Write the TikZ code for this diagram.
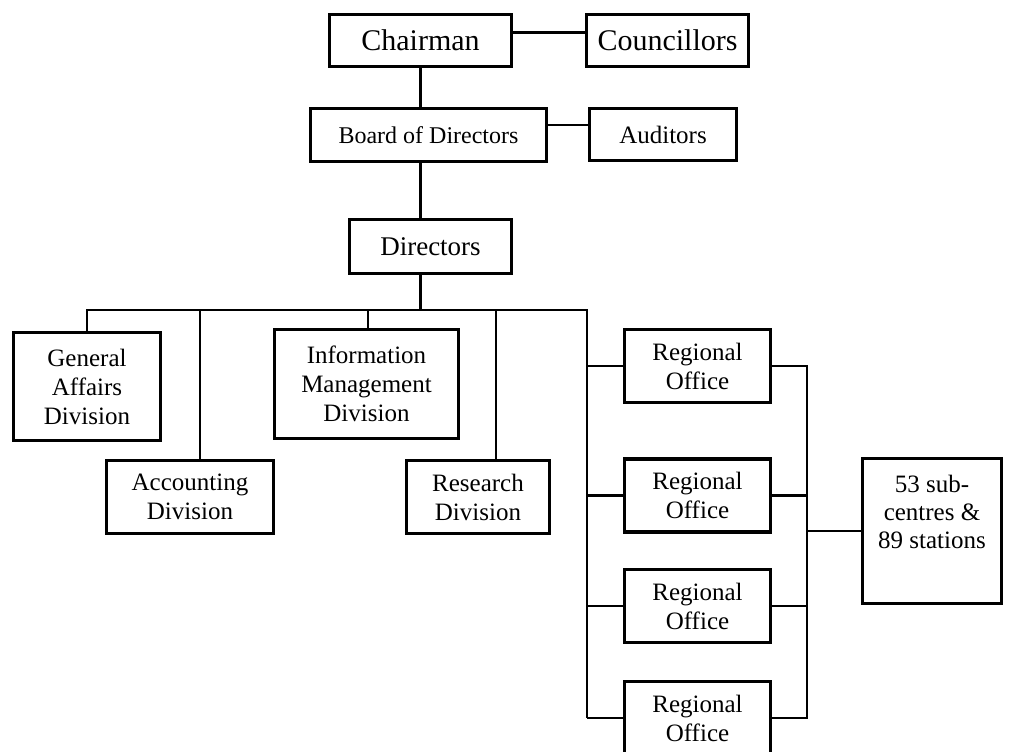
\documentclass[tikz,border=0pt]{standalone}
\usepackage{fontspec}
\setmainfont{Liberation Serif}
\usetikzlibrary{positioning}

\begin{document}
\begin{tikzpicture}[x=1pt, y=-1pt,
        orgbox/.style={draw, line width=3.4pt, align=center, inner sep=0pt, font=\fontsize{25}{29}\selectfont},
        link/.style={line width=2.7pt},
        regbox/.style={orgbox, minimum width=146pt, minimum height=73pt}]
        \useasboundingbox (0,0) rectangle (1013,752);
        \clip (0,0) rectangle (1013,752);

        % Top of the chart
        \node[orgbox, minimum width=182pt, minimum height=52pt, font=\fontsize{30}{34}\selectfont] (chair) at (420.5,40.5) {Chairman};
        \node[orgbox, minimum width=162pt, minimum height=52pt, font=\fontsize{30}{34}\selectfont] (counc) at (667.5,40.5) {Councillors};
        \node[orgbox, minimum width=236pt, minimum height=53pt, font=\fontsize{24}{28}\selectfont] (board) at (428.5,135) {Board of Directors};
        \node[orgbox, minimum width=147pt, minimum height=52pt] (audit) at (663,134.5) {Auditors};
        \node[orgbox, minimum width=162pt, minimum height=54pt, font=\fontsize{27}{31}\selectfont] (direct) at (430.5,246.5) {Directors};

        % Divisions
        \node[orgbox, minimum width=147pt, minimum height=108pt] (genaff) at (87,386.5) {General\\Affairs\\Division};
        \node[orgbox, minimum width=184pt, minimum height=109pt] (infoman) at (366.5,384) {Information\\Management\\Division};
        \node[orgbox, minimum width=167pt, minimum height=73pt] (account) at (190,497) {Accounting\\Division};
        \node[orgbox, minimum width=143pt, minimum height=73pt] (research) at (478,497) {Research\\Division};

        % Regional offices
        \node[regbox] (reg1) at (697.5,366) {Regional\\Office};
        \node[regbox] (reg2) at (697.5,495.5) {Regional\\Office};
        \node[regbox] (reg3) at (697.5,606) {Regional\\Office};
        \node[regbox] (reg4) at (697.5,718) {Regional\\Office};

        % Sub-centres and stations
        \node[orgbox, minimum width=139pt, minimum height=145pt] (subst) at (932,531) {};
        \node[align=center, anchor=north, font=\fontsize{25}{28}\selectfont] (substtext) at ([yshift=-15pt]subst.north) {53 sub-\\centres \&\\89 stations};

        % Bus points
        \coordinate (bus) at (0,310);
        \coordinate (regtop) at (587,310);
        \coordinate (regbot) at (587,718);
        \coordinate (rbus) at (807,531);

        % Connectors
        \draw[link] ([yshift=8pt]chair.east) -- ([yshift=8pt]chair.east -| counc.west);
        \draw[link] ([yshift=10pt]board.east) -- ([yshift=10pt]board.east -| audit.west);
        \draw[link] (chair.south) -- (chair.south |- board.north);
        \draw[link] (chair.south |- board.south) -- (chair.south |- direct.north);
        \draw[link] (chair.south |- direct.south) -- (chair.south |- bus);
        \draw[link] (genaff.north) |- (regtop) -- (regbot);
        \draw[link] ([xshift=10pt]account.north) -- ([xshift=10pt]account.north |- bus);
        \draw[link] ([xshift=1.5pt]infoman.north) -- ([xshift=1.5pt]infoman.north |- bus);
        \draw[link] ([xshift=18pt]research.north) -- ([xshift=18pt]research.north |- bus);
        \foreach \r in {reg1, reg2, reg3, reg4}
            \draw[link] (\r.west) -- (\r.west -| regtop);
        \draw[link] (reg1.east) -| (rbus) |- (reg4.east);
        \draw[link] (reg2.east) -- (reg2.east -| rbus);
        \draw[link] (reg3.east) -- (reg3.east -| rbus);
        \draw[link] (rbus) -- (subst.west);
    \end{tikzpicture}
\end{document}
